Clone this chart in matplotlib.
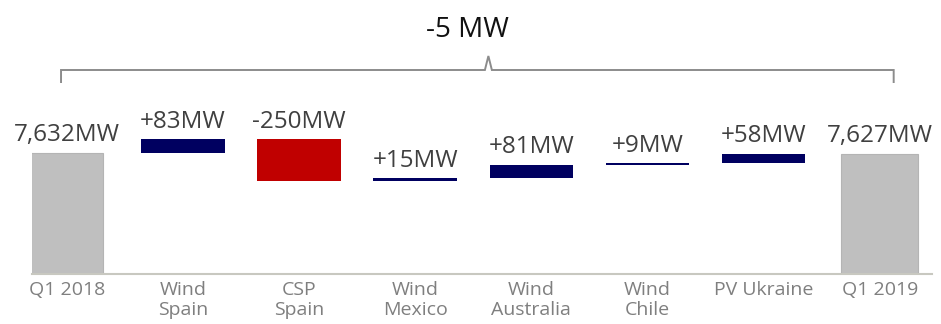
import matplotlib
matplotlib.use("Agg")
import matplotlib.pyplot as plt
import matplotlib.transforms as mtransforms
from matplotlib.path import Path
from matplotlib.patches import PathPatch

plt.rcParams['font.family'] = ['Open Sans', 'DejaVu Sans']

# Installed capacity bridge, Q1 2018 -> Q1 2019 (MW)
categories = ["Q1 2018", "Wind\nSpain", "CSP\nSpain", "Wind\nMexico",
              "Wind\nAustralia", "Wind\nChile", "PV Ukraine", "Q1 2019"]
start_total = 7632
end_total = 7627
changes = [83, -250, 15, 81, 9, 58]
value_labels = ["7,632MW", "+83MW", "-250MW", "+15MW", "+81MW", "+9MW", "+58MW", "7,627MW"]
net_label = "-5 MW"

GREY = "#bfbfbf"
NAVY = "#000060"
RED = "#c00000"
TEXT_DARK = "#404040"
TEXT_LIGHT = "#7f7f7f"

fig = plt.figure(figsize=(9.41, 3.24), dpi=100)
W, H = 941, 324
ax_left, ax_right = 32 / W, 932 / W
ax_bottom, ax_top = 1 - 274 / H, 1 - 100 / H
ax = fig.add_axes([ax_left, ax_bottom, ax_right - ax_left, ax_top - ax_bottom])

y_floor = 6906
ax.set_ylim(y_floor, 7950)
ax.set_xlim(-0.30, 7.45)

# Totals
ax.bar(0, start_total - y_floor, bottom=y_floor, width=0.62, color=GREY,
       edgecolor="#b4b4b4", linewidth=0.8)
ax.bar(7, end_total - y_floor, bottom=y_floor, width=0.66, color=GREY,
       edgecolor="#b4b4b4", linewidth=0.8)

# Floating steps
level = start_total
tops = [start_total]
for i, d in enumerate(changes, start=1):
    lo, hi = (level, level + d) if d >= 0 else (level + d, level)
    ax.bar(i, hi - lo, bottom=lo, width=0.72, color=NAVY if d >= 0 else RED)
    tops.append(hi)
    level += d
tops.append(end_total)

for i, (t, lab) in enumerate(zip(tops, value_labels)):
    ax.annotate(lab, (i, t), xytext=(0, 4), textcoords="offset points",
                ha="center", va="bottom", fontsize=17.5, color=TEXT_DARK,
                annotation_clip=False)

# Baseline and category labels
for s in ["top", "right", "left"]:
    ax.spines[s].set_visible(False)
ax.spines["bottom"].set_color("#c8c8c0")
ax.spines["bottom"].set_linewidth(1.5)
ax.set_yticks([])
ax.set_xticks(range(len(categories)))
ax.set_xticklabels(categories, fontsize=14, color=TEXT_LIGHT, linespacing=1.15)
ax.tick_params(axis="x", length=0, pad=5)

# Bracket spanning the whole bridge with the net change
trans = mtransforms.blended_transform_factory(ax.transData, fig.transFigure)
y_line = 1 - 70 / H
y_leg = 1 - 83 / H
y_peak = 1 - 56 / H
xl, xr, xc = -0.05, 7.12, 3.63
verts = [(xl, y_leg), (xl, y_line), (xc - 0.03, y_line), (xc, y_peak),
         (xc + 0.03, y_line), (xr, y_line), (xr, y_leg)]
path = Path(verts, [Path.MOVETO] + [Path.LINETO] * 6)
fig.add_artist(PathPatch(path, transform=trans, fill=False,
                         edgecolor="#8c8c8c", linewidth=1.4, clip_on=False))
fig.text(467 / W, 1 - 30 / H, net_label, ha="center", va="center",
         fontsize=20, color="#111111")

fig.savefig("out.png", dpi=100)
